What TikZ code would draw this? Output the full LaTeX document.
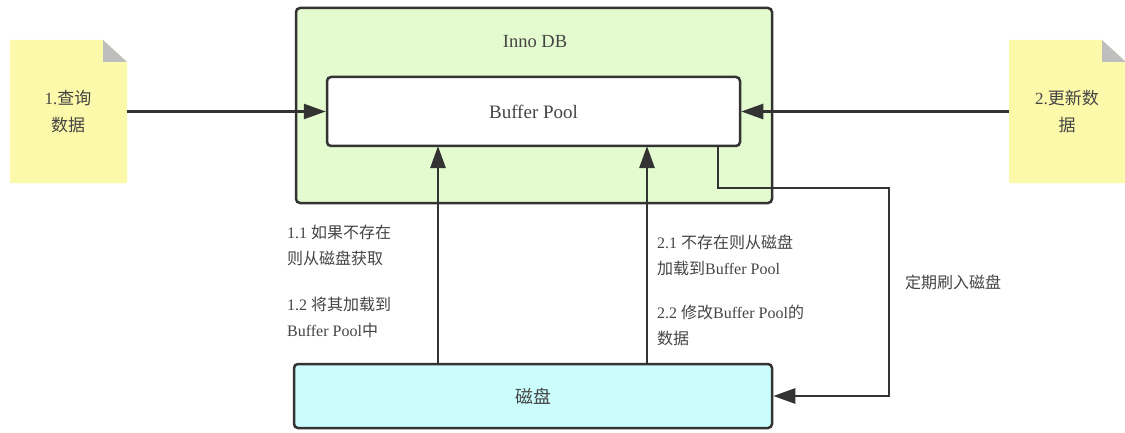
\documentclass[tikz,border=0pt]{standalone}
\usepackage{fontspec}
\setmainfont{Liberation Serif}
\newfontfamily\cjk{Noto Sans CJK SC}
\usetikzlibrary{arrows.meta}
\newcommand{\zh}[1]{{\cjk #1}}
\definecolor{dbgreen}{RGB}{228,251,207}
\definecolor{notey}{RGB}{252,249,170}
\definecolor{foldgray}{RGB}{190,190,190}
\definecolor{diskcyan}{RGB}{204,253,253}
\definecolor{ink}{RGB}{51,51,51}
\definecolor{txt}{RGB}{68,68,68}
\tikzset{
  box/.style={draw=ink, line width=2.5pt, rounded corners=4pt, inner sep=0pt},
  lbl/.style={text=txt, font=\fontsize{16}{26}\selectfont, align=left, inner sep=0pt, anchor=west},
  flow/.style={draw=ink, line width=2.6pt, -{Triangle[length=22pt,width=15pt]}}
}
\begin{document}
\begin{tikzpicture}[x=1pt, y=1pt]
\useasboundingbox (0,0) rectangle (1125,432);
% notes
\fill[notey] (10,392) -- (103,392) -- (127,370) -- (127,249) -- (10,249) -- cycle;
\fill[foldgray] (103,392) -- (103,370) -- (127,370) -- cycle;
\fill[notey] (1009,392) -- (1102,392) -- (1126,370) -- (1126,249) -- (1009,249) -- cycle;
\fill[foldgray] (1102,392) -- (1102,370) -- (1126,370) -- cycle;
\node[inner sep=0pt, minimum width=117pt, minimum height=143pt] (q) at (68,320.5) {};
\node[inner sep=0pt, minimum width=117pt, minimum height=143pt] (u) at (1067.5,320.5) {};
\node[text=txt, font=\fontsize{17}{27}\selectfont, align=center] at (68,320) {1.\zh{查询}\\\zh{数据}};
\node[text=txt, font=\fontsize{17}{27}\selectfont, align=center] at (1067,320) {2.\zh{更新数}\\\zh{据}};
% boxes
\node[box, fill=dbgreen, minimum width=476pt, minimum height=195pt] (inno) at (534,326.5) {};
\node[text=txt, font=\fontsize{18.5}{22}\selectfont] at (535,390) {Inno DB};
\node[box, fill=white, minimum width=413pt, minimum height=69pt, text=txt, font=\fontsize{19}{22}\selectfont] (bp) at (533.5,320.5) {Buffer Pool};
\node[box, fill=diskcyan, minimum width=478pt, minimum height=64pt, text=txt, font=\fontsize{18}{22}\selectfont] (disk) at (533,36) {\zh{磁盘}};
% arrows
\draw[flow] (q.east |- bp.west) to (bp.west);
\draw[flow] (u.west |- bp.east) to (bp.east);
\draw[flow] (438,68) to (438,286);
\draw[flow] (647,68) to (647,286);
\coordinate (fl) at (718,286);
\draw[flow] (fl) -- (718,244) -- (889,244) -- (889,36) -- (disk.east);
% labels
\node[lbl] (l11) at (287,187) {1.1 \zh{如果不存在}\\\zh{则从磁盘获取}};
\node[lbl] (l12) at (287,114.5) {1.2 \zh{将其加载到}\\Buffer Pool\zh{中}};
\node[lbl] (l21) at (657,176.5) {2.1 \zh{不存在则从磁盘}\\\zh{加载到}Buffer Pool};
\node[lbl] (l22) at (657,106.5) {2.2 \zh{修改}Buffer Pool\zh{的}\\\zh{数据}};
\node[lbl] (lf) at (905,150) {\zh{定期刷入磁盘}};
\end{tikzpicture}
\end{document}
